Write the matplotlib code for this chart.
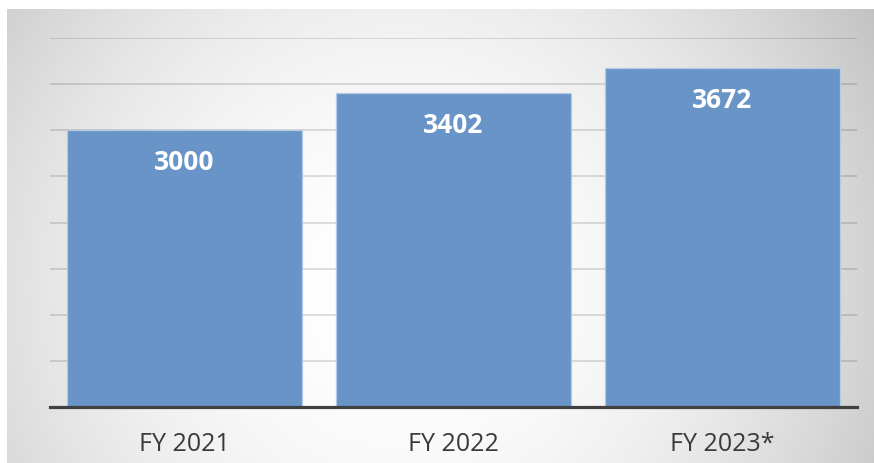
import numpy as np
import matplotlib
matplotlib.use("Agg")
import matplotlib.pyplot as plt

# Data
categories = ["FY 2021", "FY 2022", "FY 2023*"]
values = [3000, 3402, 3672]
y_ticks = [0, 500, 1000, 1500, 2000, 2500, 3000, 3500, 4000]

plt.rcParams['font.family'] = ['Open Sans', 'DejaVu Sans']

W, H = 874, 464
fig = plt.figure(figsize=(W / 100, H / 100), dpi=100)
fig.patch.set_facecolor('white')

# radial gray gradient panel behind the chart
bg = fig.add_axes([7 / W, 0, (W - 7) / W, (H - 10) / H], zorder=0)
px = np.arange(7, W)
py = np.arange(10, H)
X, Y = np.meshgrid(px, py)
d2 = (X - 400) ** 2 + (Y - 290) ** 2
shade = (255 - 2.0e-4 * d2) / 255
shade = np.clip(shade, 0.76, 1)
bg.imshow(np.dstack([shade, shade, shade]), aspect='auto', interpolation='bilinear')
bg.axis('off')

# main chart
ax = fig.add_axes([50 / W, (H - 408) / H, (857 - 50) / W, (408 - 39) / H], zorder=1)
ax.patch.set_alpha(0)

x = np.arange(len(categories))
bars = ax.bar(x, values, width=0.875, color='#6894c8', edgecolor='#b4cbe6',
              linewidth=0.9, zorder=2)

for b, v in zip(bars, values):
    ax.annotate(str(v), (b.get_x() + b.get_width() / 2, v),
                xytext=(0, -31), textcoords='offset pixels',
                ha='center', va='center', color='white',
                fontsize=19, fontweight='bold', zorder=3)

ax.set_xlim(-0.5, len(categories) - 0.5)
ax.set_ylim(0, 4000)
ax.set_yticks(y_ticks)
ax.yaxis.grid(True, color='black', alpha=0.15, linewidth=1.2, zorder=1)
ax.set_axisbelow(True)
ax.tick_params(axis='y', length=0, labelleft=False)

ax.set_xticks(x)
ax.set_xticklabels(categories, fontsize=18, color='#3a3a3a')
ax.tick_params(axis='x', length=0, pad=17)

for s in ['top', 'right', 'left']:
    ax.spines[s].set_visible(False)
ax.spines['bottom'].set_color('#404040')
ax.spines['bottom'].set_linewidth(2.3)
ax.spines['bottom'].set_zorder(4)

fig.savefig('out.png', dpi=100)
